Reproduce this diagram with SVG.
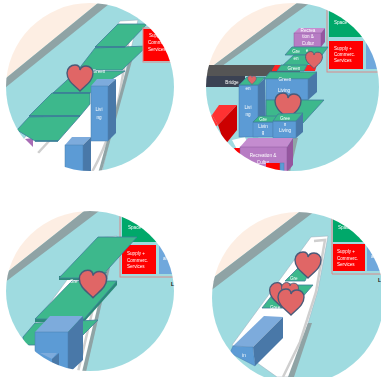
<svg xmlns="http://www.w3.org/2000/svg" width="381" height="377" viewBox="0 0 381 377">
<style>
.bg{fill:#9fdbe0}.peach{fill:#fdeee3}.strip{fill:#8fa3a5}.road{fill:#fff;stroke:#9ab;stroke-width:.5}
.gline{fill:none;stroke:#cfcfcf;stroke-width:2.500}.dline{fill:none;stroke:#8fa3a5;stroke-width:3}
.g{fill:#3cb88c;stroke:#3f7f9a;stroke-width:.8}.gd{fill:#2a8a78}.sep{fill:none;stroke:#3a7d96;stroke-width:1.300}
.bf{fill:#5b9bd5;stroke:#4a7fb0;stroke-width:.5}.bt{fill:#7dabdc}.bs{fill:#4878a8}
.pf{fill:#b77cc4;stroke:#8a5a9a;stroke-width:.5}.pt{fill:#c48ccf}.ps{fill:#95569f}
.red{fill:#f00}.frame{fill:none;stroke:#d98a8a;stroke-width:1}.sp{fill:#00a86b}.bl{fill:#6fa8dc}
text{font-family:"Liberation Sans",Arial,sans-serif;font-size:4.600px;fill:#fff}
.m{text-anchor:middle}
.h{fill:#e06666;stroke:#4a5a78;stroke-width:1.400}
.soft{filter:url(#soft)}
</style>
<defs>
<filter id="soft" x="0" y="0" width="1" height="1"><feGaussianBlur stdDeviation="0.350"/></filter>
<path id="heart" d="M0,13 C-6,7 -13,3 -13,-5 C-13,-10 -9,-13 -5,-13 C-2,-13 0,-11 0,-8 C1,-11 3,-12 6,-12 C10,-12 13,-9 13,-5 C13,3 6,7 0,13Z"/>
<clipPath id="c1"><ellipse cx="90" cy="87" rx="84" ry="84"/></clipPath>
<clipPath id="c2"><ellipse cx="292.500" cy="87" rx="86.500" ry="84"/></clipPath>
<clipPath id="c3"><ellipse cx="90" cy="291" rx="84" ry="80"/></clipPath>
<clipPath id="c4"><circle cx="298" cy="298" r="86"/></clipPath>
</defs>

<g id="panel-1" clip-path="url(#c1)"><g class="soft">
<rect class="bg" x="0" y="0" width="190" height="180"/>
<polygon class="peach" points="0,0 102,0 98,3 0,83"/>
<polygon class="strip" points="0,83 98,3 102,0 114,0 0,92"/>
<polygon class="road" points="120,21 138,20 126,70 102,172 30,172 14,150 66,90"/>
<path class="gline" d="M130,32 L122,80 Q115,130 92,172"/>
<path class="gline" d="M50,140 L38,153"/>
<path class="dline" d="M132,55 L100,172"/>
<polygon fill="#a86cb5" points="25,139 33,138 33,147"/>
<polygon class="g" points="118,24 147,24 125,47 95,47"/>
<polygon class="g" points="95,48 147,46 122,70 78,70"/>
<polygon class="g" points="77,71 125,71 90,93 53,93"/>
<polygon class="g" points="52,93 90,93 90,104 80,116 29,116"/>
<polygon class="g" points="29,117 80,116 58,141 35,141 17,130"/>
<path class="sep" d="M95,47 H125 M53,93 H90 M29,116 H80 M35,141 H58"/>
<polygon class="bt" points="91,86 97,79 116,79 108,86"/>
<polygon class="bs" points="108,86 116,79 116,133 108,141"/>
<rect class="bf" x="91" y="86" width="17" height="55"/>
<polygon class="bt" points="65,145 72,137 91,137 83,145"/>
<polygon class="bs" points="83,145 91,137 91,172 83,172"/>
<rect class="bf" x="65" y="145" width="18" height="27"/>
<rect class="red" x="143" y="29" width="30" height="32"/>
<rect class="frame" x="143" y="28" width="34" height="34"/>
<text x="149" y="37">Supply +</text><text x="148" y="44">Commerc.</text><text x="148" y="51">Services</text>
<text class="m" x="99" y="73">Green</text>
<text class="m" x="99" y="111">Livi</text><text class="m" x="99" y="119">ng</text>
<use href="#heart" class="h" x="80" y="78"/>
</g></g>

<g id="panel-2" clip-path="url(#c2)"><g class="soft">
<rect class="bg" x="200" y="0" width="181" height="180"/>
<polygon class="peach" points="200,0 301,0 297,3 214,65 200,76"/>
<polygon class="strip" points="214,65 297,3 301,0 314,0 222,66"/>
<polygon fill="#555" points="204,65 300,65 300,76 204,76"/>
<polygon fill="#3b4252" points="204,76 245,76 245,87 204,87"/>
<text class="m" x="232" y="84">Bridge</text>
<polygon fill="#f33" points="212,115 219,105 237,105 218,125"/>
<polygon fill="#c00" points="218,125 237,105 237,130 225,145"/>
<polygon fill="#f33" points="204,121 212,115 218,125 210,130"/>
<polygon fill="#fff" points="232,140 245,137 250,150 240,155"/>
<polygon fill="#f00" points="234,148 250,148 250,172 246,172"/>
<polygon class="strip" points="293,138 298,138 290,172 285,172"/>
<rect class="sp" x="329" y="10" width="34" height="27"/>
<rect class="red" x="329" y="41" width="34" height="28"/>
<rect class="bl" x="366" y="41" width="14" height="28"/>
<rect class="frame" x="327" y="8" width="55" height="64"/>
<text x="334" y="24">Space</text>
<text x="334" y="50">Supply +</text><text x="334" y="56">Commerc.</text><text x="334" y="62">Services</text>
<polygon class="pt" points="294,33 299,28 325,28 321,33"/>
<polygon class="ps" points="321,33 325,28 325,42 321,47"/>
<rect class="pf" x="294" y="33" width="27" height="14"/>
<text class="m" x="308" y="32">Recrea</text><text class="m" x="308" y="38">tion &amp;</text><text class="m" x="308" y="45">Cultur</text>
<polygon class="g" points="285,55 292,47 328,47 322,55"/>
<text class="m" x="296" y="53">Gre</text><text class="m" x="307" y="52">e</text>
<polygon class="g" points="281,67 294,55 312,55 307,67"/>
<text class="m" x="296" y="60">en</text>
<polygon fill="#f22" points="272,70 275,65 317,65 315,71 272,71"/>
<polygon class="g" points="281,65 307,65 304,71 277,71"/>
<text class="m" x="294" y="70">Green</text>
<use href="#heart" class="h" transform="translate(314,60) scale(.65)"/>
<polygon class="g" points="264,79 270,72 317,72 309,79"/>
<polygon class="bs" points="308,79 317,72 317,92 308,100"/>
<rect class="bf" x="266" y="79" width="42" height="21"/>
<text class="m" x="285" y="81">Green</text>
<text class="m" x="284" y="92">Living</text>
<polygon class="g" points="266,100 324,100 303,123 266,123"/>
<polygon class="bs" points="258,85 265,78 266,130 258,137"/>
<rect class="bf" x="239" y="85" width="19" height="52"/>
<polygon class="g" points="239,85 247,77 265,77 258,85"/>
<use href="#heart" class="h" transform="translate(252,80) scale(.33)"/>
<text class="m" x="248" y="90">en</text>
<text class="m" x="248" y="109">Livi</text><text class="m" x="248" y="116">ng</text>
<use href="#heart" class="h" x="288" y="106"/>
<rect class="bf" x="253" y="122" width="20" height="15"/>
<polygon class="g" points="253,122 259,116 278,116 273,122"/>
<text class="m" x="263" y="121">Gre</text><text class="m" x="263" y="127.500">Livin</text><text class="m" x="263" y="134">g</text>
<polygon class="bs" points="296,121 303,113 303,132 296,138"/>
<rect class="bf" x="273" y="121" width="23" height="17"/>
<polygon class="g" points="273,121 278,114 303,113 296,121"/>
<text class="m" x="285" y="119.500">Gree</text><text class="m" x="285" y="125.500">n</text><text class="m" x="285" y="131.500">Living</text>
<polygon class="pt" points="240,147 248,138 293,138 287,147"/>
<polygon class="ps" points="287,147 293,138 293,165 287,172"/>
<rect class="pf" x="240" y="147" width="47" height="25"/>
<text class="m" x="263" y="157">Recreation &amp;</text><text class="m" x="263" y="164">Cultur</text>
<polygon class="red" points="266,163 280,163 280,172 266,172"/>
<rect class="bf" x="280" y="163" width="4" height="9"/>
</g></g>

<g id="panel-3" clip-path="url(#c3)"><g class="soft">
<rect class="bg" x="0" y="205" width="190" height="172"/>
<polygon class="peach" points="0,205 91,205 83,212 0,278"/>
<polygon class="strip" points="0,278 83,212 91,205 107,205 0,286"/>
<polygon class="road" points="98,238 117,236 85,372 20,372 30,330"/>
<path class="gline" d="M111,240 L95,300 L78,372"/>
<polygon class="strip" points="107,267 110,267 86,372 82,372"/>
<rect class="sp" x="122" y="212" width="40" height="30"/>
<rect class="red" x="122" y="245" width="34" height="29"/>
<rect class="bl" x="159" y="245" width="20" height="29"/>
<rect class="frame" x="120" y="205" width="60" height="72"/>
<text x="128" y="229">Space</text>
<text x="127" y="255">Supply +</text><text x="127" y="261.500">Commerc.</text><text x="127" y="268">Services</text>
<text x="163" y="260">al</text>
<polygon class="gd" points="59,276 59,280 100,280 107,272"/>
<polygon class="g" points="59,278 98,237 137,237 100,278"/>
<polygon class="gd" points="35,319 35,322 84,322 117,285 117,281"/>
<polygon class="g" points="35,319 72,281 117,281 84,319"/>
<polygon class="g" points="23,337 35,323 98,320 83,335 60,345 23,345"/>
<text x="70" y="283">Gre</text>
<use href="#heart" class="h" transform="translate(93,284) scale(1.050)"/>
<polygon class="bt" points="35,332 50,316 83,316 68,332"/>
<polygon class="bs" points="68,332 83,316 83,360 68,374"/>
<rect class="bf" x="35" y="332" width="33" height="42"/>
<polygon class="bt" points="40,353 57,353 52,359"/>
<polygon class="bs" points="52,359 59,353 59,374 52,374"/>
</g></g>
<text x="171" y="286" style="fill:#111;font-weight:bold;font-size:5px">L</text>

<g id="panel-4" clip-path="url(#c4)"><g class="soft">
<rect class="bg" x="205" y="205" width="176" height="172"/>
<polygon class="peach" points="205,205 308,205 298,213 205,284"/>
<polygon class="strip" points="205,284 298,213 308,205 323,205 205,295"/>
<polygon class="road" points="311,237 328,236 318,290 292,377 277,377 232,345"/>
<path class="gline" d="M314,241 L325,240 L316,292 L300,342 L283,377"/>
<polygon class="strip" points="308,323 312,323 294,377 288,377"/>
<rect class="sp" x="333" y="212" width="32" height="30"/>
<rect class="red" x="333" y="244" width="32" height="27"/>
<rect class="bl" x="367" y="244" width="14" height="27"/>
<path class="frame" d="M332,212 V274 H381"/>
<text x="338" y="229">Space</text>
<text x="337" y="253">Supply +</text><text x="337" y="259.500">Commerc.</text><text x="337" y="265.500">Services</text>
<text x="371" y="258">al</text>
<polygon class="g" points="285,281 298,268 310,270 305,281"/>
<text x="290" y="279.500">Gre</text>
<polygon class="g" points="262,308 280,285 313,285 293,308"/>
<text x="270" y="309">Gree</text>
<use href="#heart" class="h" x="308" y="265"/>
<use href="#heart" class="h" transform="translate(282,295) scale(.95)"/>
<use href="#heart" class="h" transform="translate(290,291) scale(.65)"/>
<use href="#heart" class="h" x="291" y="302"/>
<polygon class="bt" points="233,346 264,316 283,317 253,347"/>
<polygon class="bs" points="253,347 283,317 283,338 255,366"/>
<polygon class="bf" points="233,346 253,347 255,366 230,353"/>
<text class="m" x="244" y="357">in</text>
</g></g>
<text x="378" y="282" style="fill:#111;font-weight:bold;font-size:5px">L</text>
</svg>
